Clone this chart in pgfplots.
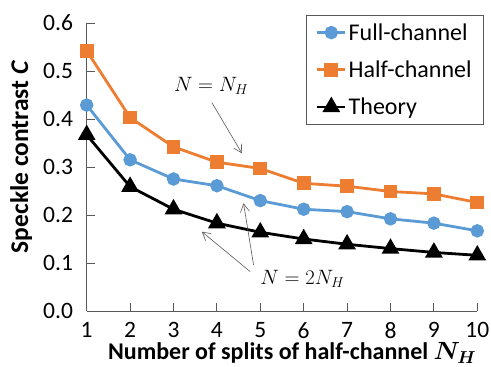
\documentclass[border=0pt]{standalone}
\usepackage{fontspec}
\setmainfont{Carlito}
\usepackage{bm}
\usepackage{pgfplots}
\pgfplotsset{compat=1.18}
\usetikzlibrary{arrows.meta}
\definecolor{xblue}{HTML}{5B9BD5}
\definecolor{xorange}{HTML}{ED7D31}
\definecolor{axgray}{HTML}{595959}
\begin{document}
\begin{tikzpicture}
\begin{axis}[
  scale only axis, width=390.6pt, height=288pt,
  at={(0pt,0pt)}, anchor=south west,
  xmin=1, xmax=10, ymin=0, ymax=0.6,
  axis x line*=bottom, axis y line*=left,
  axis line style={axgray, line width=0.9pt},
  xtick={1,2,...,10}, ytick={0,0.1,0.2,0.3,0.4,0.5,0.6},
  yticklabel={\pgfmathprintnumber[fixed,fixed zerofill,precision=1]{\tick}},
  tick align=inside, major tick length=8pt,
  tick style={axgray, line width=0.9pt},
  ticklabel style={font=\fontsize{23.5}{23.5}\selectfont, inner sep=0pt},
  yticklabel style={anchor=east, xshift=-13.5pt},
  xticklabel style={anchor=north, yshift=-11pt},
  /pgf/number format/assume math mode=true,
  xlabel={\fontsize{24}{24}\selectfont\textbf{Number of splits of half-channel} $\bm{N_H}$},
  xlabel style={at={(axis description cs:0.526,0)}, anchor=base, yshift=-49pt, inner sep=0pt},
  ylabel={\fontsize{25.5}{25.5}\selectfont\textbf{Speckle contrast \textit{C}}},
  ylabel style={at={(axis description cs:-0.150,0.535)}, anchor=base, rotate=0, inner sep=0pt},
  legend style={at={(1.017,1.027)}, anchor=north east, draw=axgray, line width=0.6pt,
    font=\fontsize{24}{24}\selectfont, row sep=15pt, inner xsep=10pt, inner ysep=6pt},
  legend cell align=left,
  legend image code/.code={\draw[mark repeat=2,mark phase=2] plot coordinates {(0pt,0pt) (14pt,0pt) (28pt,0pt)};},
]
\addplot[xblue, line width=2.8pt, mark=*, mark size=5.3pt] coordinates {
(1,0.429) (2,0.315) (3,0.275) (4,0.261) (5,0.230) (6,0.212) (7,0.207) (8,0.192) (9,0.183) (10,0.167)};
\addlegendentry{Full-channel}
\addplot[xorange, line width=2.8pt, mark=square*, mark size=5.5pt] coordinates {
(1,0.542) (2,0.403) (3,0.342) (4,0.310) (5,0.297) (6,0.266) (7,0.260) (8,0.249) (9,0.244) (10,0.226)};
\addlegendentry{Half-channel}
\addplot[black, line width=2.8pt, mark=triangle*, mark size=7.5pt] coordinates {
(1,0.367) (2,0.259) (3,0.212) (4,0.183) (5,0.164) (6,0.150) (7,0.139) (8,0.130) (9,0.122) (10,0.116)};
\addlegendentry{Theory}
\node[font=\fontsize{22}{22}\selectfont] at (axis cs:3.87,0.469) {$N = N_H$};
\node[font=\fontsize{22}{22}\selectfont] at (axis cs:5.97,0.067) {$N = 2N_H$};
\draw[axgray, line width=0.6pt, -{Straight Barb[length=8pt,width=9pt]}] (axis cs:3.885,0.434) -- (axis cs:4.577,0.3285);
\draw[axgray, line width=0.6pt, -{Straight Barb[length=8pt,width=9pt]}] (axis cs:4.845,0.0958) -- (axis cs:4.614,0.2244);
\draw[axgray, line width=0.6pt, -{Straight Barb[length=8pt,width=9pt]}] (axis cs:4.769,0.0819) -- (axis cs:3.654,0.1652);
\end{axis}
\pgfresetboundingbox
\path (-86.7pt,-56pt) rectangle (404.3pt,311pt);
\end{tikzpicture}
\end{document}
